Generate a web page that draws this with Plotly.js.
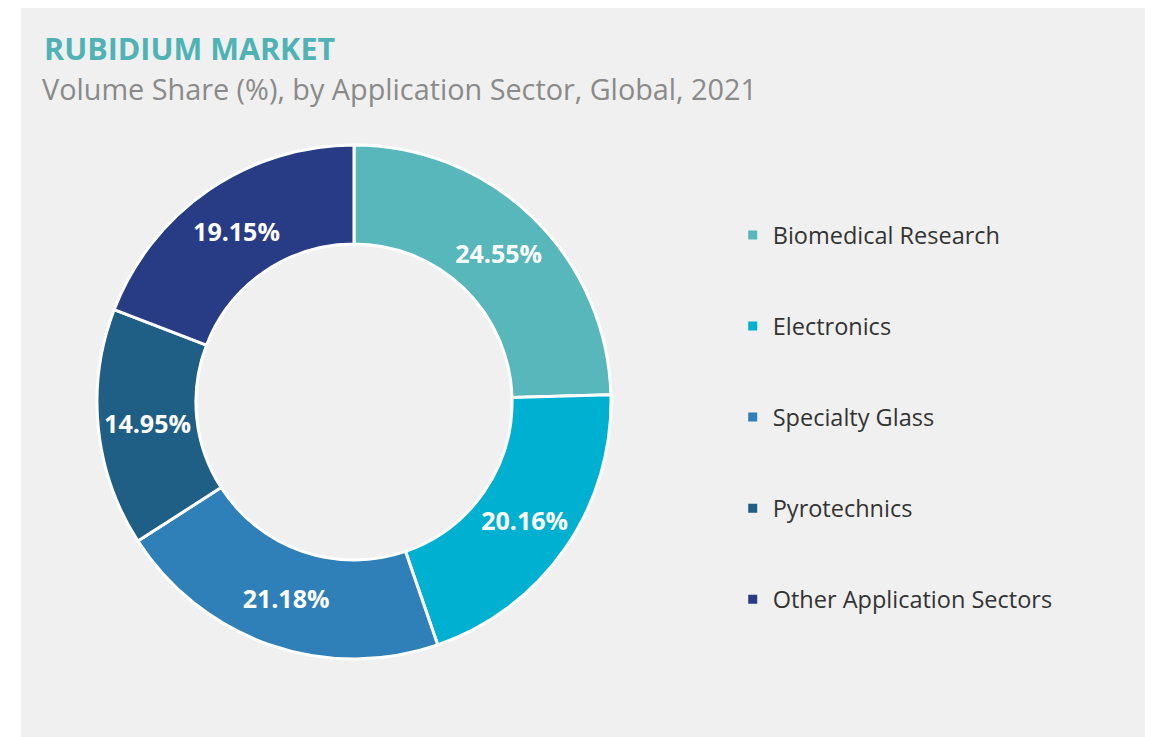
<!DOCTYPE html>
<html>
<head>
<meta charset="utf-8">
<script src="https://cdn.plot.ly/plotly-3.0.1.min.js"></script>
<style>
  html, body { margin: 0; padding: 0; background: #ffffff; width: 1153px; height: 737px; overflow: hidden; }
  #chart { position: absolute; left: 21px; top: 8px; width: 1124px; height: 729px; }
</style>
</head>
<body>
<div id="chart"></div>
<script>
const sectors = ["Biomedical Research", "Electronics", "Specialty Glass", "Pyrotechnics", "Other Application Sectors"];
const shares = [24.55, 20.16, 21.18, 14.95, 19.15];
const colors = ["#58b7ba", "#00b0d1", "#2f80b8", "#1f5e85", "#283b85"];
const chartTitle = "RUBIDIUM MARKET";
const chartSubtitle = "Volume Share (%), by Application Sector, Global, 2021";

const FONT = "'Open Sans', 'Noto Sans', sans-serif";

const pie = {
  type: "pie",
  labels: sectors,
  values: shares,
  text: shares.map(v => v.toFixed(2) + "%"),
  textinfo: "text",
  hoverinfo: "label+text",
  sort: false,
  direction: "clockwise",
  rotation: 0,
  hole: 0.615,
  marker: { colors: colors, line: { color: "#ffffff", width: 3 } },
  textposition: "inside",
  insidetextorientation: "horizontal",
  textfont: { family: FONT, size: 25, color: "#ffffff", weight: "bold" },
  domain: { x: [0.0676, 0.5249], y: [0.1070, 0.8121] },
  showlegend: false
};

const legendTraces = sectors.map((s, i) => ({
  type: "scatter",
  mode: "markers",
  x: [null],
  y: [null],
  name: s,
  legendgroup: "g" + i,
  marker: { symbol: "square", size: 9, color: colors[i] },
  hoverinfo: "skip",
  showlegend: true
}));

const layout = {
  width: 1124,
  height: 729,
  margin: { l: 0, r: 0, t: 0, b: 0 },
  paper_bgcolor: "#f0f0f0",
  plot_bgcolor: "rgba(0,0,0,0)",
  font: { family: FONT, color: "#333333" },
  xaxis: { visible: false, domain: [0.6, 0.61] },
  yaxis: { visible: false, domain: [0.5, 0.51] },
  showlegend: true,
  legend: {
    x: 0.6332, xanchor: "left",
    y: 0.7185, yanchor: "top",
    bgcolor: "rgba(0,0,0,0)",
    font: { family: FONT, size: 23.5, color: "#333333" },
    tracegroupgap: 57.5,
    itemclick: false, itemdoubleclick: false
  },
  annotations: [
    { text: chartTitle, xref: "paper", yref: "paper", x: 0.0185, y: 0.945, xanchor: "left", yanchor: "middle",
      showarrow: false, font: { family: FONT, size: 30.5, color: "#4fb3b6", weight: "bold" } },
    { text: chartSubtitle, xref: "paper", yref: "paper", x: 0.0165, y: 0.889, xanchor: "left", yanchor: "middle",
      showarrow: false, font: { family: FONT, size: 28.8, color: "#8a8a8a" } }
  ]
};

Plotly.newPlot("chart", [pie].concat(legendTraces), layout, { displayModeBar: false });
</script>
</body>
</html>
